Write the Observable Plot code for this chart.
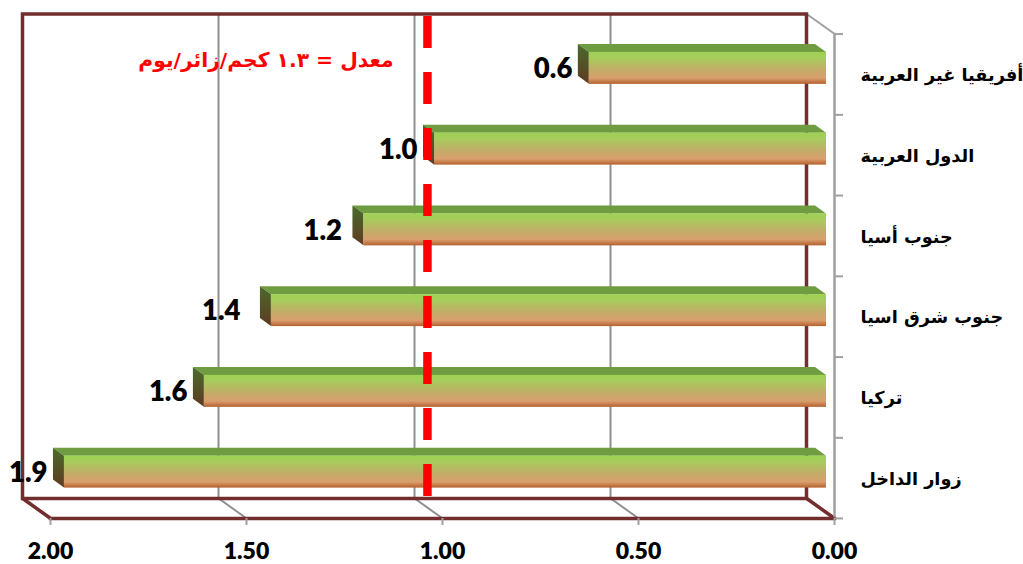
<!DOCTYPE html>
<html>
<head>
<meta charset="utf-8">
<script src="https://cdn.jsdelivr.net/npm/d3@7"></script>
<script src="https://cdn.jsdelivr.net/npm/@observablehq/plot@0.6"></script>
<style>html,body{margin:0;padding:0;background:#fff}svg{display:block}</style>
</head>
<body>
<div id="chart"></div>
<script>
const categories = ["أفريقيا غير العربية","الدول العربية","جنوب أسيا","جنوب شرق اسيا","تركيا","زوار الداخل"];
const values = [0.605, 1.0, 1.18, 1.416, 1.587, 1.944];
const xTicks = [0, 0.5, 1, 1.5, 2];
const innerGrid = [0.5, 1, 1.5];
const averageLine = [1.018];
const averageText = "معدل = ١.٣ كجم/زائر/يوم";

const table = categories.map((category, i) => ({category, value: values[i]}));

const WALL = "#722d2d", GRID = "#8f8f8f", AXIS = "#a0a0a0";
const DX = -28, DY = -20;           // depth of the chart box
const BX = -11, BY = -8;            // depth of each bar
const ARAB = "'DejaVu Sans', sans-serif";
const LATIN = "Lato, sans-serif";

function gradient(id, stops) {
  const g = d3.create("svg:linearGradient").attr("id", id)
    .attr("x1", 0).attr("x2", 0).attr("y1", 0).attr("y2", 1);
  stops.forEach(([o, c]) => g.append("stop").attr("offset", o).attr("stop-color", c));
  return g.node();
}
const defs = () => {
  const d = d3.create("svg:defs");
  d.append(() => gradient("barFront", [[0, "#9fd055"], [0.18, "#a6cd5b"], [0.55, "#c2ac68"], [0.82, "#d99f6d"], [1, "#b5602f"]]));
  d.append(() => gradient("barSide", [[0, "#4a6b2b"], [1, "#5f3a22"]]));
  return d.node();
};

// connectors running from the back wall to the front edge, from the x scale
const connectors = (index, {x}, values, {height, marginBottom, marginTop}) => {
  const g = d3.create("svg:g").attr("fill", "none");
  const floor = height - marginBottom;
  const seg = (v, y, color) => g.append("line")
    .attr("x1", x(v)).attr("y1", y).attr("x2", x(v) + DX).attr("y2", y + DY)
    .attr("stroke", color).attr("stroke-width", color === WALL ? 3.5 : 2);
  innerGrid.forEach(v => seg(v, floor, GRID));
  seg(0, marginTop, AXIS);
  seg(0, floor, WALL);
  seg(2, floor, WALL);
  return g.node();
};

// adds the top and end faces of each 3-D bar to the library's own bars
const faces = (index, scales, vals, dims, ctx, next) => {
  const g = next(index, scales, vals, dims, ctx);
  d3.select(g).selectAll("rect").each(function () {
    const r = d3.select(this);
    const x = +r.attr("x"), y = +r.attr("y"), w = +r.attr("width"), h = +r.attr("height");
    g.insertBefore(d3.create("svg:polygon")
      .attr("points", [[x, y], [x + BX, y + BY], [x + w + BX, y + BY], [x + w, y]].join(" "))
      .attr("fill", "#6f9c40").node(), this);
    g.insertBefore(d3.create("svg:polygon")
      .attr("points", [[x, y], [x + BX, y + BY], [x + BX, y + h + BY], [x, y + h]].join(" "))
      .attr("fill", "url(#barSide)").node(), this);
  });
  return g;
};

const labelNudge = [0, 0, -5, -14, 0, 0];

const chart = Plot.plot({
  width: 1023,
  height: 564,
  marginTop: 33.5,
  marginBottom: 46,
  marginLeft: 50,
  marginRight: 189,
  style: {background: "#fff", fontFamily: ARAB, overflow: "visible"},
  x: {domain: [2, 0]},
  y: {domain: categories, paddingInner: 0.604, paddingOuter: 0.302, round: false},
  marks: [
    defs,
    Plot.ruleX(innerGrid, {x: d => d, dx: DX, dy: DY, stroke: GRID, strokeWidth: 2}),
    connectors,
    Plot.frame({dx: DX, dy: DY, stroke: WALL, strokeWidth: 3.5}),
    Plot.frame({anchor: "right", stroke: AXIS, strokeWidth: 2.5}),
    Plot.frame({anchor: "bottom", stroke: WALL, strokeWidth: 3.5}),
    Plot.ruleY(categories, {y: d => d, x1: () => 0, x2: () => -0.023, dy: -40.3, stroke: AXIS, strokeWidth: 2}),
    Plot.ruleY(categories.slice(-1), {y: d => d, x1: () => 0, x2: () => -0.023, dy: 40.3, stroke: AXIS, strokeWidth: 2}),
    Plot.axisX({anchor: "bottom", ticks: xTicks, tickFormat: d3.format(".2f"), tickSize: 7, tickPadding: 17,
      label: null, stroke: AXIS, strokeWidth: 2, fill: "black", fontFamily: LATIN, fontWeight: 800, fontSize: 23}),
    Plot.axisY({anchor: "right", tickSize: 0, tickPadding: 26, label: null, dy: 1,
      fill: "black", fontFamily: ARAB, fontWeight: 700, fontSize: 17.7}),
    Plot.barX(table, {x: "value", y: "category", fill: "url(#barFront)", dx: -8, dy: -6, render: faces}),
    Plot.ruleX(averageLine, {x: d => d, dx: -8, dy: DY, stroke: "#ff0000", strokeWidth: 8.5, strokeDasharray: "32 24", strokeDashoffset: -2.5}),
    Plot.text([averageText], {x: () => 1.125, y: () => categories[0], text: d => d, textAnchor: "end", dy: -14,
      fill: "#ff0000", fontFamily: ARAB, fontWeight: 700, fontSize: 20.3}),
    ...table.map((d, i) => Plot.text([d], {x: "value", y: "category", text: t => d3.format(".1f")(t.value),
      textAnchor: "end", dx: -25 + labelNudge[i], dy: -5, fill: "black",
      fontFamily: LATIN, fontWeight: 800, fontSize: 27.5}))
  ]
});
document.getElementById("chart").append(chart);
</script>
</body>
</html>
